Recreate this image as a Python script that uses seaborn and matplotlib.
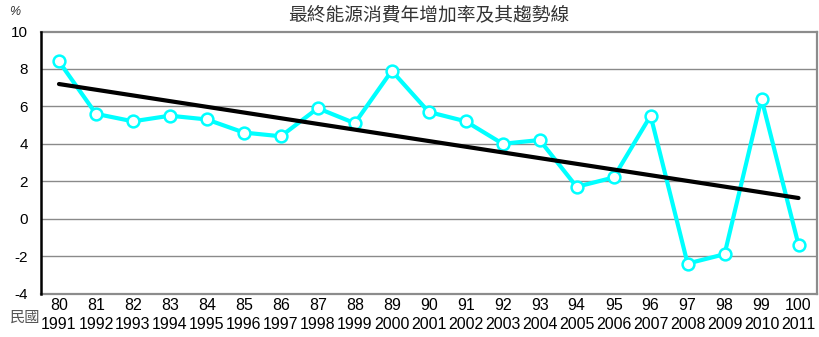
import numpy as np
import pandas as pd
import matplotlib
matplotlib.use("Agg")
import matplotlib.pyplot as plt
import seaborn as sns

# ROC years and Gregorian years
roc_years = ["80", "81", "82", "83", "84", "85", "86", "87", "88", "89", "90",
             "91", "92", "93", "94", "95", "96", "97", "98", "99", "100"]
ad_years = ["1991", "1992", "1993", "1994", "1995", "1996", "1997", "1998", "1999", "2000",
            "2001", "2002", "2003", "2004", "2005", "2006", "2007", "2008", "2009", "2010", "2011"]
# Annual growth rate of final energy consumption (%)
growth = [8.4, 5.6, 5.2, 5.5, 5.3, 4.6, 4.4, 5.9, 5.1, 7.9, 5.7,
          5.2, 4.0, 4.2, 1.7, 2.2, 5.5, -2.4, -1.9, 6.4, -1.4]
y_ticks = [-4, -2, 0, 2, 4, 6, 8, 10]

sns.set_theme(style="white")
plt.rcParams["font.family"] = ["Liberation Sans", "Noto Sans CJK TC", "DejaVu Sans"]

df = pd.DataFrame({"pos": np.arange(len(growth)), "growth": growth})
slope, intercept = np.polyfit(df["pos"], df["growth"], 1)
df["trend"] = intercept + slope * df["pos"]

fig = plt.figure(figsize=(8.19, 3.37), dpi=100)
W, H = 819, 337
ax = fig.add_axes([40.5 / W, 1 - 293.5 / H, (817 - 40.5) / W, (293.5 - 31.5) / H])

for v in y_ticks[1:-1]:
    ax.axhline(v, color="#8a8a8a", lw=1.0, zorder=0)

sns.lineplot(data=df, x="pos", y="growth", ax=ax, color="#00FFFF", lw=3.0,
             marker="o", markersize=8.5, markerfacecolor="white",
             markeredgecolor="#00FFFF", markeredgewidth=1.8, zorder=3)
sns.lineplot(data=df.iloc[[0, -1]], x="pos", y="trend", ax=ax, color="black",
             lw=3.0, zorder=4)

ax.set_xlim(-0.5, len(growth) - 0.5)
ax.set_ylim(-4, 10)
ax.set_yticks(y_ticks)
ax.set_yticklabels([str(v) for v in y_ticks], fontsize=11, color="black")
ax.set_xticks(df["pos"])
ax.set_xticklabels([f"{r}\n{a}" for r, a in zip(roc_years, ad_years)],
                   fontsize=11.5, color="black", linespacing=1.3)
ax.tick_params(axis="both", length=0)
ax.tick_params(axis="x", pad=3.5)
ax.tick_params(axis="y", pad=9)
ax.set_xlabel("")
ax.set_ylabel("")

for side in ["top", "right", "bottom"]:
    ax.spines[side].set_color("#8c8c8c")
    ax.spines[side].set_linewidth(1.6)
ax.spines["left"].set_color("black")
ax.spines["left"].set_linewidth(1.8)
ax.spines["left"].set_zorder(5)

fig.text(429 / W, 1 - 15 / H, "最終能源消費年增加率及其趨勢線", ha="center", va="center",
         fontsize=13.5, color="#333333", family=["Noto Sans CJK TC"])
fig.text(15 / W, 1 - 12 / H, "%", ha="center", va="center", fontsize=9,
         color="#333333", style="italic")
fig.text(25 / W, 1 - 317 / H, "民國", ha="center", va="center", fontsize=11,
         color="#555555", family=["Noto Sans CJK TC"])

fig.savefig("out.png", dpi=100)
